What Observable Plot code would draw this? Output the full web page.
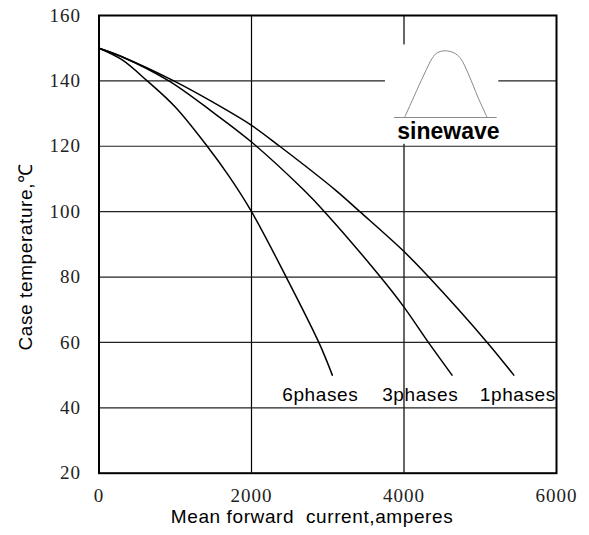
<!DOCTYPE html>
<html>
<head>
<meta charset="utf-8">
<script src="https://cdn.jsdelivr.net/npm/d3@7"></script>
<script src="https://cdn.jsdelivr.net/npm/@observablehq/plot@0.6"></script>
<style>
  html, body { margin: 0; padding: 0; background: #fff; }
  g[aria-description="sans"] text { letter-spacing: 0.6px; }
  g[aria-description="serif"] text { letter-spacing: 1px; }
  g[aria-description="squash"] text { letter-spacing: 0px; }
</style>
</head>
<body>
<div id="chart"></div>
<script>
// ---- data ----
const xTicks = [0, 2000, 4000, 6000];
const yTicks = [20, 40, 60, 80, 100, 120, 140, 160];
const xGrid = [2000, 4000];
const yGrid = [40, 60, 80, 100, 120, 140];

const seriesNames = ["6phases", "3phases", "1phases"];
const current6 = [0, 300, 632, 1000, 1419, 1700, 2000, 2455, 2883, 3060];
const temp6    = [150, 146.5, 140, 132, 120, 111, 100, 80, 60, 50];
const current3 = [0, 300, 916, 1500, 2000, 2686, 2957, 3692, 4000, 4320, 4630];
const temp3    = [150, 147.4, 140, 130.3, 121.3, 106.6, 100, 80, 70.8, 60, 50];
const current1 = [0, 300, 981, 1500, 2000, 2370, 3101, 3421, 4000, 4325, 5091, 5440];
const temp1    = [150, 147.4, 140, 133.4, 126.4, 120, 106.6, 100, 87.8, 80, 60, 50];

const labelX = [2403, 3714, 4994];
const labelY = [44, 44, 44];

// inset "sine wave" icon (in chart units)
const insetBox = {x1: 3757, x2: 5243, y1: 120.6, y2: 151};
const iconX = [4007, 4129, 4260, 4370, 4435, 4544, 4653, 4741, 4850, 4968, 5091];
const iconY = [128.8, 135.1, 141.8, 146.9, 148.6, 149.2, 148.6, 146.9, 141.8, 135.1, 128.8];
const iconBase = {x1: 3875, x2: 5222, y: 128.8};
const iconText = "sinewave";

const xLabel = "Mean forward\u00a0 current,amperes";
const yLabel = "Case temperature,\u2103";

// ---- build table ----
const curves = [];
[[current6, temp6], [current3, temp3], [current1, temp1]].forEach(([xs, ys], i) => {
  xs.forEach((x, j) => curves.push({series: seriesNames[i], current: x, temp: ys[j]}));
});
const labels = seriesNames.map((s, i) => ({text: s, x: labelX[i], y: labelY[i]}));
const icon = iconX.map((x, i) => ({x, y: iconY[i]}));

const sans = "Liberation Sans, Arial, sans-serif";
const serif = "Liberation Serif, Times New Roman, serif";

const chart = Plot.plot({
  width: 589,
  height: 535,
  marginLeft: 98.5,
  marginRight: 33,
  marginTop: 15,
  marginBottom: 62.3,
  x: {domain: [0, 6000]},
  y: {domain: [20, 160]},
  style: {background: "white", color: "black"},
  marks: [
    Plot.ruleX(xGrid, {stroke: "black", strokeWidth: 1.2}),
    Plot.ruleY(yGrid, {stroke: "#222", strokeWidth: 1.2}),
    Plot.rect([insetBox], {x1: "x1", x2: "x2", y1: "y1", y2: "y2", fill: "white"}),
    Plot.line(icon, {x: "x", y: "y", stroke: "#8a8a8a", strokeWidth: 1, curve: "catmull-rom"}),
    Plot.ruleY([iconBase], {x1: "x1", x2: "x2", y: "y", stroke: "#8a8a8a", strokeWidth: 1}),
    Plot.text([iconText], {x: 4583, y: 124.6, text: d => d,
      fontFamily: sans, fontWeight: "bold", fontSize: 23, fill: "black", ariaDescription: "squash"}),
    Plot.line(curves, {x: "current", y: "temp", z: "series", stroke: "black", strokeWidth: 1.5, curve: "catmull-rom"}),
    Plot.text(labels, {x: "x", y: "y", text: "text", textAnchor: "start", fontFamily: sans, fontSize: 19,
      fill: "black", ariaDescription: "sans"}),
    Plot.frame({stroke: "black", strokeWidth: 2}),
    Plot.axisX(xTicks, {tickSize: 0, tickPadding: 15.5, fontSize: 19, fontFamily: serif, fill: "#222", label: null,
      tickFormat: d => String(d), ariaDescription: "serif"}),
    Plot.axisY(yTicks, {tickSize: 0, tickPadding: 18, fontSize: 19, fontFamily: serif, fill: "#222", label: null,
      tickFormat: d => String(d), ariaDescription: "serif"}),
    Plot.text([xLabel], {frameAnchor: "bottom", textAnchor: "middle", lineAnchor: "middle", dx: -15.7, dy: 44.2,
      text: d => d, fontFamily: sans, fontSize: 19, fill: "black", ariaDescription: "sans"}),
    Plot.text([yLabel], {frameAnchor: "left", textAnchor: "middle", lineAnchor: "middle", rotate: -90, dx: -72.8, dy: 12.6,
      text: d => d, fontFamily: sans, fontSize: 19, fill: "black", ariaDescription: "sans"})
  ]
});
document.getElementById("chart").appendChild(chart);
</script>
</body>
</html>
